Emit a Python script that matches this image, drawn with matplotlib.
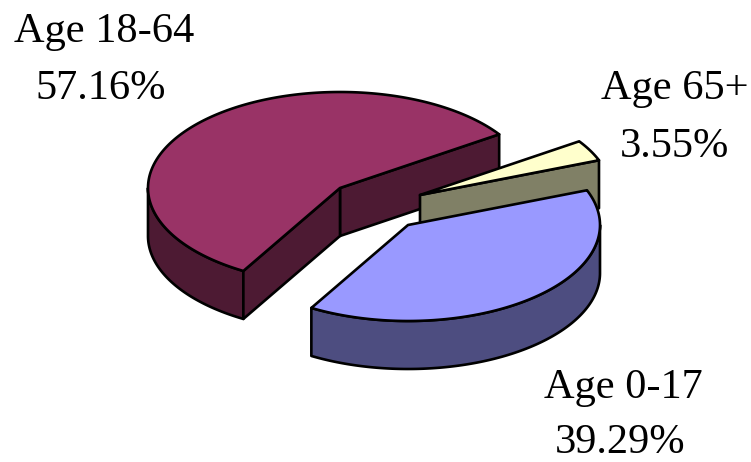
import numpy as np
import matplotlib
matplotlib.use("Agg")
import matplotlib.pyplot as plt
from matplotlib.patches import Polygon

categories = ["Age 18-64", "Age 65+", "Age 0-17"]
values = [57.16, 3.55, 39.29]
labels = ["57.16%", "3.55%", "39.29%"]

top_colors = {"Age 18-64": "#993366", "Age 65+": "#FFFFCC", "Age 0-17": "#9999FF"}
side_colors = {"Age 18-64": "#4D1A33", "Age 65+": "#808066", "Age 0-17": "#4D4D80"}
apex = {"Age 18-64": (340, 188), "Age 65+": (420, 195), "Age 0-17": (408, 225)}
name_pos = {"Age 18-64": (104, 32), "Age 65+": (675, 89), "Age 0-17": (623, 388)}
pct_pos = {"Age 18-64": (101, 89), "Age 65+": (674, 147), "Age 0-17": (620, 443)}

A, B, DEPTH = 192, 96, 48
START = 34.0

fig = plt.figure(figsize=(7.51, 4.62), dpi=100)
ax = fig.add_axes([0, 0, 1, 1])
ax.set_xlim(0, 751)
ax.set_ylim(462, 0)
ax.axis("off")

# counter-clockwise from START: purple, then blue, then yellow
angles = {}
cur = START
for c in ["Age 18-64", "Age 0-17", "Age 65+"]:
    span = values[categories.index(c)] / sum(values) * 360
    angles[c] = (cur, cur + span)
    cur += span


def pt(c, t, d=0):
    cx, cy = apex[c]
    r = np.radians(t)
    return np.array([cx + A * np.cos(r), cy - B * np.sin(r) + d])


def arc(c, t0, t1, d=0):
    ts = np.linspace(t0, t1, 200)
    return np.array([pt(c, t, d) for t in ts])


def poly(xy, color, z):
    ax.add_patch(Polygon(xy, closed=True, facecolor=color, edgecolor="black",
                         linewidth=1.9, joinstyle="round", zorder=z))


def wall(c, t, z):
    a = np.array(apex[c], float)
    e = pt(c, t)
    poly([a, e, e + [0, DEPTH], a + [0, DEPTH]], side_colors[c], z)


def outer(c, t0, t1, z):
    if t1 <= t0:
        return
    poly(np.vstack([arc(c, t0, t1), arc(c, t1, t0, DEPTH)]), side_colors[c], z)


# purple slice, at the back
c = "Age 18-64"
t0, t1 = angles[c]
outer(c, 180, t1, 1)
wall(c, t0, 1)
wall(c, t1, 1)
poly(np.vstack([[apex[c]], arc(c, t0, t1)]), top_colors[c], 2)

# yellow slice, over the purple wall and behind the blue slice
c = "Age 65+"
t0, t1 = angles[c]
wall(c, t0, 3)
poly(np.vstack([[apex[c]], arc(c, t0, t1)]), top_colors[c], 4)

# blue slice
c = "Age 0-17"
t0, t1 = angles[c]
outer(c, t0, 360, 5)
poly(np.vstack([[apex[c]], arc(c, t0, t1)]), top_colors[c], 6)

for c, l in zip(categories, labels):
    ax.text(*name_pos[c], c, ha="center", va="center", family="Liberation Serif", fontsize=30.5, color="black")
    ax.text(*pct_pos[c], l, ha="center", va="center", family="Liberation Serif", fontsize=30.5, color="black")

fig.savefig("out.png", dpi=100)
